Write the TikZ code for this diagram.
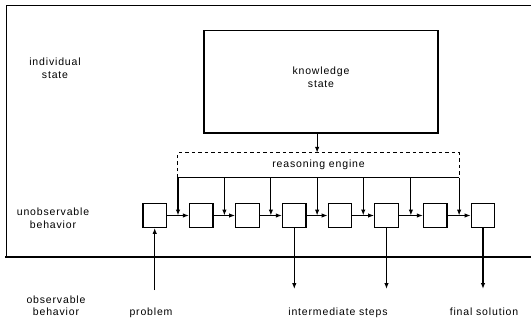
\documentclass[tikz,border=0pt]{standalone}
\usepackage{fontspec}
\setmainfont{Liberation Sans}[LetterSpace=8]
\usetikzlibrary{arrows.meta,calc}
\begin{document}
\begin{tikzpicture}[x=1pt,y=-1pt,
  lbl/.style={font=\fontsize{10.5}{12.5}\selectfont, align=center, inner sep=0pt},
  stepbox/.style={draw, line width=1.4pt, minimum width=23.5pt, minimum height=23.5pt, inner sep=0pt},
  arr/.style={line width=1.1pt, -{Latex[length=6pt,width=4.5pt]}},
  frame/.style={line width=1.1pt},
  dashline/.style={line width=1.1pt, dash pattern=on 3.5pt off 3pt}]
\useasboundingbox (0,0) rectangle (531,322);
% frame
\coordinate (ftr) at (531,5.5);
\coordinate (ftl) at (6.5,5.5);
\coordinate (fbl) at (6.5,257);
\coordinate (hl) at (5,257);
\coordinate (hr) at (531,257);
\draw[frame] (ftr) -- (ftl) -- (fbl);
\draw[frame] (hl) -- (hr);
% knowledge state
\node[draw, line width=1.4pt, minimum width=234pt, minimum height=102.5pt, inner sep=0pt] (ks) at (321,81.75) {};
\node[lbl] (kslbl) at (321,77) {knowledge\\state};
% step boxes
\foreach \x [count=\i] in {154.7,201.3,247.5,294.3,340,386.5,435.3,483}
  \node[stepbox] (b\i) at (\x,215.5) {};
\foreach \i in {1,...,7}{
  \pgfmathtruncatemacro\j{\i+1}
  \coordinate (g\i) at ($(b\i.east)!0.5!(b\j.west)$);
  \draw[arr] (b\i.east) -- (b\j.west);
}
% reasoning engine
\node[lbl, minimum width=281.15pt, minimum height=24.5pt] (re) at (318.575,165.25) {reasoning engine};
\draw[dashline] (re.south west) -- (re.north west) -- (re.north east) -- (re.south east);
\draw[frame] (re.south west) -- (re.south east);
\foreach \i in {1,...,7}
  \draw[arr] (g\i |- re.south) -- (g\i);
\draw[arr] (ks.south -| g4) -- (re.north -| g4);
% observable arrows
\draw[arr] (b1.south |- 0,290) -- (b1.south);
\draw[arr] (b4.south) -- (b4.south |- 0,289);
\draw[arr] (b6.south) -- (b6.south |- 0,289);
\draw[arr] (b8.south) -- (b8.south |- 0,289);
% labels
\node[lbl] (ind) at (55,68) {individual\\state};
\node[lbl] (unob) at (53,218) {unobservable\\behavior};
\node[lbl] (obs) at (56,305.5) {observable\\behavior};
\node[lbl, anchor=base] (prob) at (151,315) {problem};
\node[lbl, anchor=base] (inter) at (338,315) {intermediate steps};
\node[lbl, anchor=base] (fin) at (484,315) {final solution};
\end{tikzpicture}
\end{document}
